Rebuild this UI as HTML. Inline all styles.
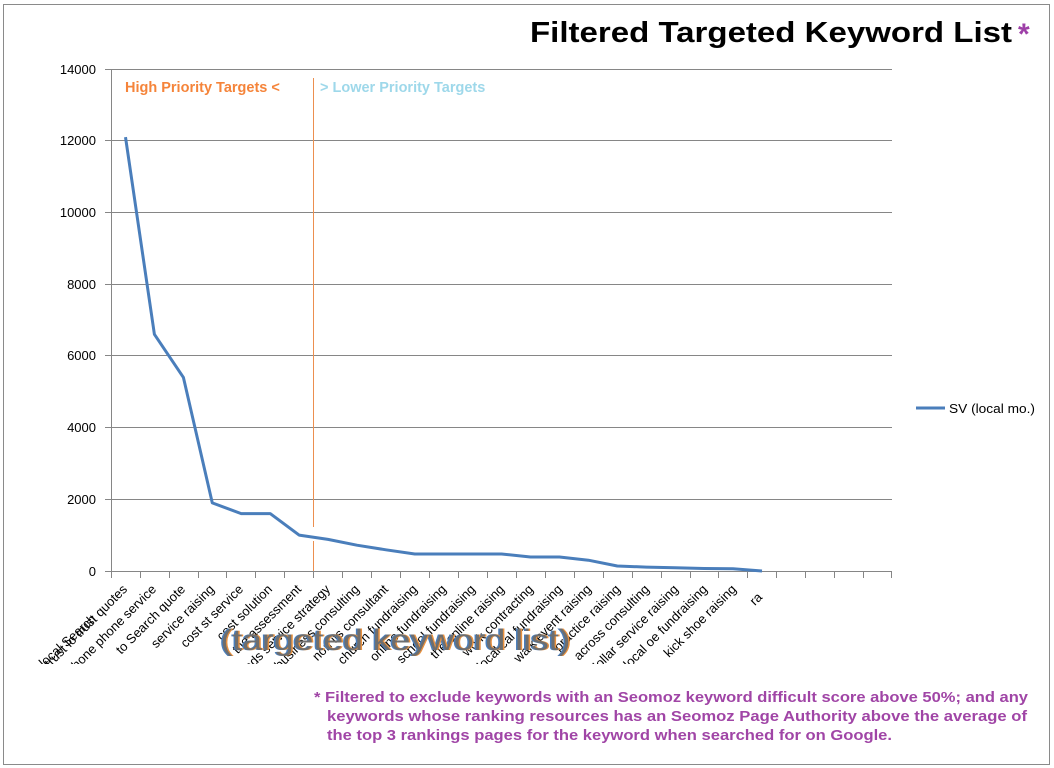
<!DOCTYPE html>
<html>
<head>
<meta charset="utf-8">
<style>
html,body{margin:0;padding:0;background:#fff;}
svg{display:block;}
text{font-family:"Liberation Sans",Arial,sans-serif;}
</style>
</head>
<body>
<svg width="1054" height="768" viewBox="0 0 1054 768" xmlns="http://www.w3.org/2000/svg">
<rect x="0" y="0" width="1054" height="768" fill="#fff"/>
<rect x="3.5" y="4.5" width="1046" height="760" fill="none" stroke="#8a8a8a" stroke-width="1"/>

<!-- Title -->
<text x="530" y="42" font-size="29" font-weight="bold" fill="#000" textLength="482" lengthAdjust="spacingAndGlyphs">Filtered Targeted Keyword List</text>
<text x="1018" y="44" font-size="30" font-weight="bold" fill="#9e40a8">*</text>

<!-- gridlines -->
<g stroke="#868686" stroke-width="1">
<line x1="105" y1="69.5" x2="892" y2="69.5"/>
<line x1="105" y1="140.5" x2="892" y2="140.5"/>
<line x1="105" y1="212.5" x2="892" y2="212.5"/>
<line x1="105" y1="284.5" x2="892" y2="284.5"/>
<line x1="105" y1="355.5" x2="892" y2="355.5"/>
<line x1="105" y1="427.5" x2="892" y2="427.5"/>
<line x1="105" y1="499.5" x2="892" y2="499.5"/>
<line x1="105" y1="571.5" x2="892" y2="571.5"/>
<line x1="111.5" y1="69" x2="111.5" y2="571"/>
</g>
<!-- x ticks -->
<g stroke="#868686" stroke-width="1">
<line x1="111.5" y1="571" x2="111.5" y2="578"/>
<line x1="140.5" y1="571" x2="140.5" y2="578"/>
<line x1="169.5" y1="571" x2="169.5" y2="578"/>
<line x1="198.5" y1="571" x2="198.5" y2="578"/>
<line x1="226.5" y1="571" x2="226.5" y2="578"/>
<line x1="255.5" y1="571" x2="255.5" y2="578"/>
<line x1="284.5" y1="571" x2="284.5" y2="578"/>
<line x1="313.5" y1="571" x2="313.5" y2="578"/>
<line x1="342.5" y1="571" x2="342.5" y2="578"/>
<line x1="371.5" y1="571" x2="371.5" y2="578"/>
<line x1="400.5" y1="571" x2="400.5" y2="578"/>
<line x1="429.5" y1="571" x2="429.5" y2="578"/>
<line x1="458.5" y1="571" x2="458.5" y2="578"/>
<line x1="487.5" y1="571" x2="487.5" y2="578"/>
<line x1="516.5" y1="571" x2="516.5" y2="578"/>
<line x1="545.5" y1="571" x2="545.5" y2="578"/>
<line x1="574.5" y1="571" x2="574.5" y2="578"/>
<line x1="603.5" y1="571" x2="603.5" y2="578"/>
<line x1="632.5" y1="571" x2="632.5" y2="578"/>
<line x1="661.5" y1="571" x2="661.5" y2="578"/>
<line x1="690.5" y1="571" x2="690.5" y2="578"/>
<line x1="718.5" y1="571" x2="718.5" y2="578"/>
<line x1="747.5" y1="571" x2="747.5" y2="578"/>
<line x1="776.5" y1="571" x2="776.5" y2="578"/>
<line x1="805.5" y1="571" x2="805.5" y2="578"/>
<line x1="834.5" y1="571" x2="834.5" y2="578"/>
<line x1="863.5" y1="571" x2="863.5" y2="578"/>
<line x1="891.5" y1="571" x2="891.5" y2="578"/>
</g>

<!-- y labels -->
<g font-size="13" fill="#000" text-anchor="end">
<text x="96" y="74">14000</text>
<text x="96" y="145">12000</text>
<text x="96" y="217">10000</text>
<text x="96" y="289">8000</text>
<text x="96" y="360">6000</text>
<text x="96" y="432">4000</text>
<text x="96" y="504">2000</text>
<text x="96" y="576">0</text>
</g>

<!-- divider -->
<line x1="313.5" y1="78" x2="313.5" y2="527" stroke="#ec8f4f" stroke-width="1"/>
<line x1="313.5" y1="541" x2="313.5" y2="571" stroke="#ec8f4f" stroke-width="1"/>

<text x="125" y="92" font-size="14.5" font-weight="bold" fill="#f5843a">High Priority Targets  &lt;</text>
<text x="320" y="92" font-size="14.5" font-weight="bold" fill="#9ed8ea">&gt; Lower Priority Targets</text>

<!-- series -->
<polyline fill="none" stroke="#4a7ebb" stroke-width="3" stroke-linejoin="round"
points="125.5,137.1 154.4,334.3 183.4,377.4 212.3,502.9 241.2,513.6 270.2,513.6 299.1,535.1 328,539.4 356.9,545.2 385.9,549.8 414.8,554 443.7,554 472.7,554 501.6,554 530.5,557 559.5,557 588.4,560.2 617.3,566 646.2,567.1 675.2,567.8 704.1,568.5 733,568.8 762,571"/>

<!-- legend -->
<line x1="916" y1="408" x2="945" y2="408" stroke="#4a7ebb" stroke-width="3"/>
<text x="949" y="413" font-size="13" fill="#000" textLength="86" lengthAdjust="spacingAndGlyphs">SV (local mo.)</text>

<!-- x labels -->
<defs>
<clipPath id="lc"><rect x="0" y="580" width="900" height="84"/></clipPath>
</defs>
<g clip-path="url(#lc)" font-size="13" fill="#000" text-anchor="end">
<text transform="translate(97,620) rotate(-42)">local Search</text>
<text transform="translate(128,590) rotate(-45)">trust lo trust quotes</text>
<text transform="translate(157,590) rotate(-45)">iphone phone service</text>
<text transform="translate(186,590) rotate(-45)">to Search quote</text>
<text transform="translate(215,590) rotate(-45)">service raising</text>
<text transform="translate(244,590) rotate(-45)">cost st service</text>
<text transform="translate(273,590) rotate(-45)">cost solution</text>
<text transform="translate(302,590) rotate(-45)">the assessment</text>
<text transform="translate(331,590) rotate(-45)">ads service strategy</text>
<text transform="translate(360,590) rotate(-45)">business consulting</text>
<text transform="translate(389,590) rotate(-45)">non its consultant</text>
<text transform="translate(418,590) rotate(-45)">church fundraising</text>
<text transform="translate(447,590) rotate(-45)">online fundraising</text>
<text transform="translate(476,590) rotate(-45)">school fundraising</text>
<text transform="translate(505,590) rotate(-45)">the online raising</text>
<text transform="translate(534,590) rotate(-45)">work contracting</text>
<text transform="translate(563,590) rotate(-45)">local cal fundraising</text>
<text transform="translate(592,590) rotate(-45)">walk event raising</text>
<text transform="translate(621,590) rotate(-45)">practice raising</text>
<text transform="translate(650,590) rotate(-45)">across consulting</text>
<text transform="translate(679,590) rotate(-45)">dollar service raising</text>
<text transform="translate(708,590) rotate(-45)">local oe fundraising</text>
<text transform="translate(737,590) rotate(-45)">kick shoe raising</text>
<text transform="translate(763,598) rotate(-45)">ra</text>
</g>

<!-- axis title -->
<text x="219" y="650" font-size="30" fill="#4a7ebb" textLength="350" lengthAdjust="spacingAndGlyphs">(targeted keyword list)</text>
<text x="222" y="650" font-size="30" fill="#e8913f" textLength="350" lengthAdjust="spacingAndGlyphs">(targeted keyword list)</text>
<text x="220.5" y="650" font-size="30" fill="#6e6e6e" textLength="350" lengthAdjust="spacingAndGlyphs">(targeted keyword list)</text>

<!-- footnote -->
<g font-size="14.5" font-weight="bold" fill="#a045a6">
<text x="314" y="702" textLength="714" lengthAdjust="spacingAndGlyphs">* Filtered to exclude keywords with an Seomoz keyword difficult score above 50%; and any</text>
<text x="327" y="721" textLength="700" lengthAdjust="spacingAndGlyphs">keywords whose ranking resources has an Seomoz Page Authority above the average of</text>
<text x="327" y="740" textLength="565" lengthAdjust="spacingAndGlyphs">the top 3 rankings pages for the keyword when searched for on Google.</text>
</g>
</svg>
</body>
</html>
